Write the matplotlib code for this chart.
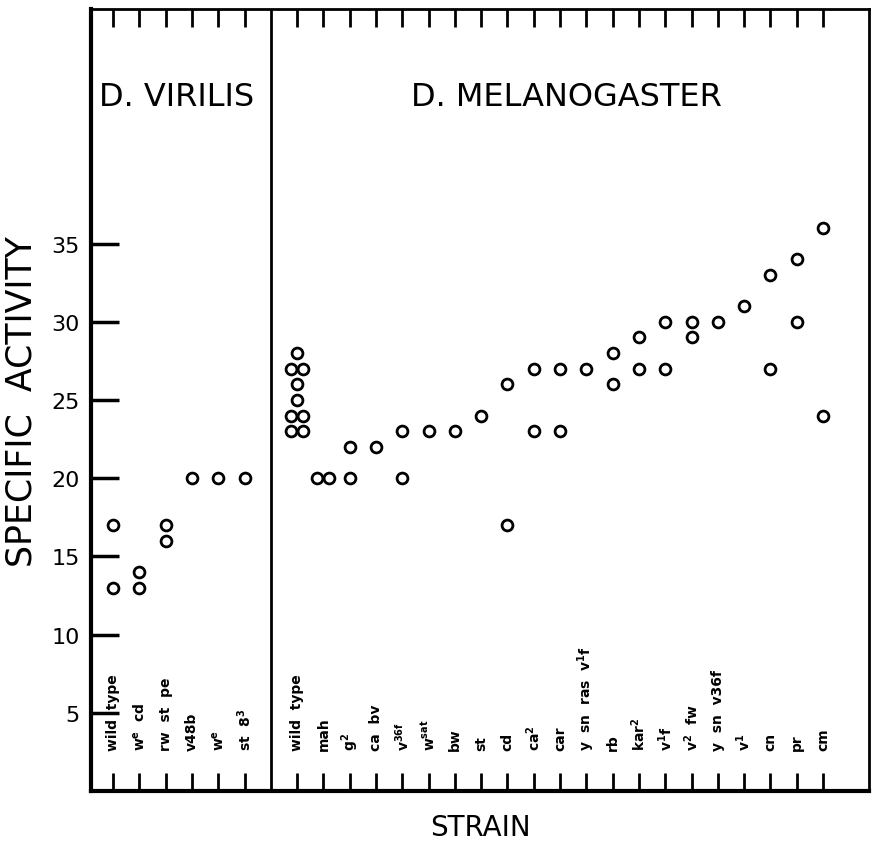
import matplotlib
matplotlib.use('Agg')

import matplotlib.pyplot as plt
import numpy as np

# strains, D. virilis (left panel) and D. melanogaster (right panel)
virilis_strains = ['wild  type', r'w$^\mathbf{e}$  cd', 'rw  st  pe', 'v48b',
                   r'w$^\mathbf{e}$', r'st  8$^\mathbf{3}$']
virilis_values = [[17, 13], [14, 13], [17, 16], [20], [20], [20]]

melano_strains = ['wild  type', 'mah', r'g$^\mathbf{2}$', 'ca  bv',
                  r'v$^\mathbf{36f}$', r'w$^\mathbf{sat}$', 'bw', 'st', 'cd',
                  r'ca$^\mathbf{2}$', 'car', r'y  sn  ras  v$^\mathbf{1}$f',
                  'rb', r'kar$^\mathbf{2}$', r'v$^\mathbf{1}$f',
                  r'v$^\mathbf{2}$  fw', 'y  sn  v36f', r'v$^\mathbf{1}$',
                  'cn', 'pr', 'cm']
melano_values = [[28, 27, 27, 26, 25, 24, 24, 23, 23], [20, 20], [22, 20],
                 [22], [23, 20], [23], [23], [24], [26, 17], [27, 23],
                 [27, 23], [27], [28, 26], [29, 27], [30, 27], [30, 29],
                 [30], [31], [33, 27], [34, 30], [36, 24]]

y_ticks = [5, 10, 15, 20, 25, 30, 35]

strains = virilis_strains + melano_strains
values = virilis_values + melano_values
# one empty slot between the two species
xpos = list(range(1, len(virilis_strains) + 1)) + \
    list(range(len(virilis_strains) + 2, len(strains) + 2))
divider = len(virilis_strains) + 1

fig = plt.figure(figsize=(8.72, 8.53), dpi=100)
ax = fig.add_axes([91 / 872, 1 - 792 / 853, 778 / 872, 782 / 853])

for x, vals in zip(xpos, values):
    # repeated values sit side by side
    for v in set(vals):
        n = vals.count(v)
        offs = np.array([0.0]) if n == 1 else np.linspace(-0.23, 0.23, n)
        ax.plot(x + offs, [v] * n, 'o', ms=7.8, mfc='white', mec='black',
                mew=2.0, ls='none', zorder=3)

for x, name in zip(xpos, strains):
    ax.text(x, 2.6, name, rotation=90, ha='center', va='bottom',
            fontsize=10, fontweight='bold')

ax.axvline(divider, color='black', lw=2)

ax.text(3.41, 44.4, 'D. VIRILIS', ha='center', va='center', fontsize=23)
ax.text(18.26, 44.4, 'D. MELANOGASTER', ha='center', va='center',
        fontsize=23)

ax.set_xlim(0.16, 29.75)
ax.set_ylim(0, 50)

ax.set_xticks(xpos)
ax.set_xticklabels([])
ax.tick_params(axis='x', direction='in', length=13, width=2,
               top=True, bottom=True)
ax.set_yticks(y_ticks)
ax.set_yticklabels([str(t) for t in y_ticks], fontsize=16)
ax.tick_params(axis='y', direction='in', length=20, width=2.5, pad=8,
               left=True, right=False)

for side in ['left', 'bottom']:
    ax.spines[side].set_linewidth(3)
for side in ['top', 'right']:
    ax.spines[side].set_linewidth(2)

fig.text(22 / 872, 1 - 402 / 853, 'SPECIFIC  ACTIVITY', rotation=90,
         ha='center', va='center', fontsize=25)
fig.text(480 / 872, 1 - 828 / 853, 'STRAIN', ha='center', va='center',
         fontsize=20)

plt.savefig('out.png', dpi=100)
